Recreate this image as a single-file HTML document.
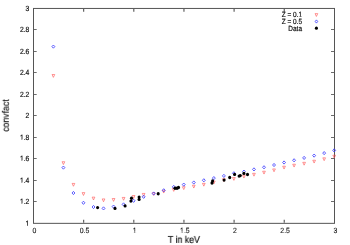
<!DOCTYPE html>
<html><head><meta charset="utf-8"><title>plot</title>
<style>html,body{margin:0;padding:0;background:#fff;}body{width:350px;height:245px;overflow:hidden;}svg{display:block;will-change:transform;}text{font-family:"Liberation Sans",sans-serif;text-rendering:geometricPrecision;}</style>
</head><body>
<svg width="350" height="245" viewBox="0 0 350 245">
<rect width="350" height="245" fill="#fff"/>
<g stroke="#555" stroke-width="1" fill="none">
<rect x="33.5" y="8.45" width="301.0" height="214.90"/>
<path d="M34.0 201.50h2.7M334.0 201.50h-3.0M34.0 180.50h2.7M334.0 180.50h-3.0M34.0 158.50h2.7M334.0 158.50h-3.0M34.0 137.50h2.7M334.0 137.50h-3.0M34.0 115.50h2.7M334.0 115.50h-3.0M34.0 94.50h2.7M334.0 94.50h-3.0M34.0 72.50h2.7M334.0 72.50h-3.0M34.0 51.50h2.7M334.0 51.50h-3.0M34.0 29.50h2.7M334.0 29.50h-3.0" stroke="#6c6c6c"/>
<path d="M83.65 222.85v-3.2M83.65 8.95v2.8M133.80 222.85v-3.2M133.80 8.95v2.8M183.95 222.85v-3.2M183.95 8.95v2.8M234.10 222.85v-3.2M234.10 8.95v2.8M284.25 222.85v-3.2M284.25 8.95v2.8" stroke="#5a5a5a" stroke-width="1.15"/>
</g>
<g fill="#111" font-size="7.5px" opacity="0.999" stroke="#111" stroke-width="0.2">
<g text-anchor="end">
<g transform="translate(29.30 225.90) scale(0.9 1)"><text>1</text><rect x="-4.40" y="-0.96" width="2.06" height="1.36" fill="#fff" stroke="none"/><rect x="-1.57" y="-0.96" width="2.03" height="1.36" fill="#fff" stroke="none"/></g>
<g transform="translate(29.30 203.90) scale(0.9 1)"><text>1.2</text><rect x="-10.65" y="-0.96" width="2.06" height="1.36" fill="#fff" stroke="none"/><rect x="-7.82" y="-0.96" width="2.03" height="1.36" fill="#fff" stroke="none"/></g>
<g transform="translate(29.30 182.90) scale(0.9 1)"><text>1.4</text><rect x="-10.65" y="-0.96" width="2.06" height="1.36" fill="#fff" stroke="none"/><rect x="-7.82" y="-0.96" width="2.03" height="1.36" fill="#fff" stroke="none"/></g>
<g transform="translate(29.30 160.90) scale(0.9 1)"><text>1.6</text><rect x="-10.65" y="-0.96" width="2.06" height="1.36" fill="#fff" stroke="none"/><rect x="-7.82" y="-0.96" width="2.03" height="1.36" fill="#fff" stroke="none"/></g>
<g transform="translate(29.30 139.90) scale(0.9 1)"><text>1.8</text><rect x="-10.65" y="-0.96" width="2.06" height="1.36" fill="#fff" stroke="none"/><rect x="-7.82" y="-0.96" width="2.03" height="1.36" fill="#fff" stroke="none"/></g>
<g transform="translate(29.30 117.90) scale(0.9 1)"><text>2</text></g>
<g transform="translate(29.30 96.90) scale(0.9 1)"><text>2.2</text></g>
<g transform="translate(29.30 74.90) scale(0.9 1)"><text>2.4</text></g>
<g transform="translate(29.30 53.90) scale(0.9 1)"><text>2.6</text></g>
<g transform="translate(29.30 31.90) scale(0.9 1)"><text>2.8</text></g>
<g transform="translate(29.30 10.90) scale(0.9 1)"><text>3</text></g>
</g><g text-anchor="middle" stroke-width="0.1">
<g transform="translate(34.40 232.50) scale(0.92 1)"><text>0</text></g>
<g transform="translate(84.55 232.50) scale(0.92 1)"><text>0.5</text></g>
<g transform="translate(134.70 232.50) scale(0.92 1)"><text>1</text><rect x="-2.31" y="-0.96" width="2.06" height="1.36" fill="#fff" stroke="none"/><rect x="0.52" y="-0.96" width="2.03" height="1.36" fill="#fff" stroke="none"/></g>
<g transform="translate(184.85 232.50) scale(0.92 1)"><text>1.5</text><rect x="-5.44" y="-0.96" width="2.06" height="1.36" fill="#fff" stroke="none"/><rect x="-2.61" y="-0.96" width="2.03" height="1.36" fill="#fff" stroke="none"/></g>
<g transform="translate(235.00 232.50) scale(0.92 1)"><text>2</text></g>
<g transform="translate(285.15 232.50) scale(0.92 1)"><text>2.5</text></g>
<g transform="translate(335.30 232.50) scale(0.92 1)"><text>3</text></g>
</g>
<g text-anchor="end">
<g transform="translate(302.00 17.45) scale(0.86 1)"><text>Z = 0.1</text><rect x="-4.40" y="-0.96" width="2.06" height="1.36" fill="#fff" stroke="none"/><rect x="-1.57" y="-0.96" width="2.03" height="1.36" fill="#fff" stroke="none"/></g>
<g transform="translate(302.00 23.95) scale(0.86 1)"><text>Z = 0.5</text></g>
<g transform="translate(302.00 30.70) scale(0.86 1)"><text>Data</text></g>
</g></g>
<g fill="#111" font-size="10.0px" text-anchor="middle" opacity="0.999" stroke="#111" stroke-width="0.2">
<g transform="translate(183.90 242.90) scale(0.88 1)"><text>T in keV</text></g>
<text font-size="9.6px" stroke-width="0.15" transform="translate(8.85 115.60) rotate(-90) scale(0.91 1)">convfact</text>
</g>
<g fill="none" stroke="#ff5555" stroke-width="0.62">
<path d="M315.05 13.62L317.75 13.62L316.40 16.46Z"/>
<path d="M52.04 74.53L54.74 74.53L53.39 77.36Z"/>
<path d="M62.07 161.72L64.77 161.72L63.42 164.56Z"/>
<path d="M72.10 183.43L74.80 183.43L73.45 186.26Z"/>
<path d="M82.12 192.62L84.82 192.62L83.47 195.46Z"/>
<path d="M92.15 197.12L94.85 197.12L93.50 199.96Z"/>
<path d="M102.18 198.93L104.88 198.93L103.53 201.76Z"/>
<path d="M112.21 198.53L114.91 198.53L113.56 201.36Z"/>
<path d="M122.24 197.43L124.94 197.43L123.59 200.26Z"/>
<path d="M132.27 195.53L134.97 195.53L133.62 198.36Z"/>
<path d="M142.30 193.43L145.00 193.43L143.65 196.26Z"/>
<path d="M152.33 192.62L155.03 192.62L153.68 195.46Z"/>
<path d="M162.36 190.22L165.06 190.22L163.71 193.06Z"/>
<path d="M172.39 188.53L175.09 188.53L173.74 191.36Z"/>
<path d="M182.41 186.72L185.11 186.72L183.76 189.56Z"/>
<path d="M192.44 185.22L195.14 185.22L193.79 188.06Z"/>
<path d="M202.47 183.32L205.17 183.32L203.82 186.16Z"/>
<path d="M212.50 181.03L215.20 181.03L213.85 183.86Z"/>
<path d="M222.53 178.72L225.23 178.72L223.88 181.56Z"/>
<path d="M232.56 177.53L235.26 177.53L233.91 180.36Z"/>
<path d="M242.59 175.22L245.29 175.22L243.94 178.06Z"/>
<path d="M252.62 173.32L255.32 173.32L253.97 176.16Z"/>
<path d="M262.65 171.22L265.35 171.22L264.00 174.06Z"/>
<path d="M272.68 168.93L275.38 168.93L274.03 171.76Z"/>
<path d="M282.70 166.22L285.41 166.22L284.06 169.06Z"/>
<path d="M292.73 164.22L295.43 164.22L294.08 167.06Z"/>
<path d="M302.76 162.32L305.46 162.32L304.11 165.16Z"/>
<path d="M312.79 160.22L315.49 160.22L314.14 163.06Z"/>
<path d="M322.82 157.82L325.52 157.82L324.17 160.66Z"/>
<path d="M332.85 155.22L335.55 155.22L334.20 158.06Z"/>
</g>
<g fill="none" stroke="#4040ff" stroke-width="0.85" stroke-linejoin="round">
<path d="M316.45 19.90L317.70 21.50L316.45 23.10L315.20 21.50Z"/>
<path d="M53.39 45.00L54.84 46.60L53.39 48.20L51.94 46.60Z"/>
<path d="M63.42 166.00L64.87 167.60L63.42 169.20L61.97 167.60Z"/>
<path d="M73.45 191.40L74.90 193.00L73.45 194.60L72.00 193.00Z"/>
<path d="M83.47 201.20L84.92 202.80L83.47 204.40L82.02 202.80Z"/>
<path d="M93.50 205.40L94.95 207.00L93.50 208.60L92.05 207.00Z"/>
<path d="M103.53 206.80L104.98 208.40L103.53 210.00L102.08 208.40Z"/>
<path d="M113.56 205.00L115.01 206.60L113.56 208.20L112.11 206.60Z"/>
<path d="M123.59 202.80L125.04 204.40L123.59 206.00L122.14 204.40Z"/>
<path d="M133.62 199.20L135.07 200.80L133.62 202.40L132.17 200.80Z"/>
<path d="M143.65 195.20L145.10 196.80L143.65 198.40L142.20 196.80Z"/>
<path d="M153.68 191.90L155.13 193.50L153.68 195.10L152.23 193.50Z"/>
<path d="M163.71 188.70L165.16 190.30L163.71 191.90L162.26 190.30Z"/>
<path d="M173.74 185.30L175.19 186.90L173.74 188.50L172.29 186.90Z"/>
<path d="M183.76 183.00L185.21 184.60L183.76 186.20L182.31 184.60Z"/>
<path d="M193.79 180.90L195.24 182.50L193.79 184.10L192.34 182.50Z"/>
<path d="M203.82 178.70L205.27 180.30L203.82 181.90L202.37 180.30Z"/>
<path d="M213.85 176.50L215.30 178.10L213.85 179.70L212.40 178.10Z"/>
<path d="M223.88 174.30L225.33 175.90L223.88 177.50L222.43 175.90Z"/>
<path d="M233.91 171.70L235.36 173.30L233.91 174.90L232.46 173.30Z"/>
<path d="M243.94 170.00L245.39 171.60L243.94 173.20L242.49 171.60Z"/>
<path d="M253.97 167.80L255.42 169.40L253.97 171.00L252.52 169.40Z"/>
<path d="M264.00 165.70L265.45 167.30L264.00 168.90L262.55 167.30Z"/>
<path d="M274.03 163.40L275.48 165.00L274.03 166.60L272.58 165.00Z"/>
<path d="M284.06 160.90L285.50 162.50L284.06 164.10L282.61 162.50Z"/>
<path d="M294.08 158.70L295.53 160.30L294.08 161.90L292.63 160.30Z"/>
<path d="M304.11 156.30L305.56 157.90L304.11 159.50L302.66 157.90Z"/>
<path d="M314.14 154.00L315.59 155.60L314.14 157.20L312.69 155.60Z"/>
<path d="M324.17 151.50L325.62 153.10L324.17 154.70L322.72 153.10Z"/>
<path d="M334.20 148.80L335.65 150.40L334.20 152.00L332.75 150.40Z"/>
</g>
<g fill="#000">
<ellipse cx="316.40" cy="28.15" rx="1.55" ry="1.7"/>
<ellipse cx="97.60" cy="207.60" rx="1.55" ry="1.7"/>
<ellipse cx="115.00" cy="208.40" rx="1.55" ry="1.7"/>
<ellipse cx="125.10" cy="205.90" rx="1.55" ry="1.7"/>
<ellipse cx="131.50" cy="198.30" rx="1.55" ry="1.7"/>
<ellipse cx="130.90" cy="201.10" rx="1.55" ry="1.7"/>
<ellipse cx="139.10" cy="197.10" rx="1.55" ry="1.7"/>
<ellipse cx="139.10" cy="199.40" rx="1.55" ry="1.7"/>
<ellipse cx="158.20" cy="193.70" rx="1.55" ry="1.7"/>
<ellipse cx="175.00" cy="188.30" rx="1.55" ry="1.7"/>
<ellipse cx="177.00" cy="188.30" rx="1.55" ry="1.7"/>
<ellipse cx="178.50" cy="187.50" rx="1.55" ry="1.7"/>
<ellipse cx="212.60" cy="181.00" rx="1.55" ry="1.7"/>
<ellipse cx="212.00" cy="183.00" rx="1.55" ry="1.7"/>
<ellipse cx="224.10" cy="180.10" rx="1.55" ry="1.7"/>
<ellipse cx="229.70" cy="177.50" rx="1.55" ry="1.7"/>
<ellipse cx="234.60" cy="174.40" rx="1.55" ry="1.7"/>
<ellipse cx="239.10" cy="176.10" rx="1.55" ry="1.7"/>
<ellipse cx="240.30" cy="175.60" rx="1.55" ry="1.7"/>
<ellipse cx="243.90" cy="173.40" rx="1.55" ry="1.7"/>
<ellipse cx="247.50" cy="174.50" rx="1.55" ry="1.7"/>
</g>
</svg></body></html>
